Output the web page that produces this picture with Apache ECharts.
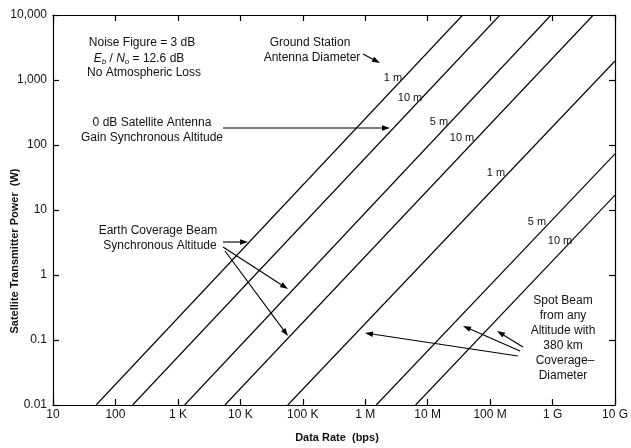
<!DOCTYPE html>
<html>
<head>
<meta charset="utf-8">
<script src="https://cdn.jsdelivr.net/npm/echarts@6/dist/echarts.min.js"></script>
<style>
html,body{margin:0;padding:0;background:#fff;}
#chart{width:631px;height:448px;}
</style>
</head>
<body>
<div id="chart"></div>
<script>
// ---- data ----
const xTickLabels = ['10', '100', '1 K', '10 K', '100 K', '1 M', '10 M', '100 M', '1 G', '10 G'];
const yTickLabels = ['0.01', '0.1', '1', '10', '100', '1,000', '10,000'];
const lineNames = ['1 m', '10 m', '5 m', '10 m', '1 m', '5 m', '10 m'];
// start point of each line (data rate bps, power W)
const startRate = [49, 188, 1280, 5660, 57500, 1.5e6, 6.4e6];
const startPower = [0.01, 0.01, 0.01, 0.01, 0.01, 0.01, 0.01];
// end point of each line
const endRate = [3.64e7, 1.44e8, 9.5e8, 4.5e9, 1e10, 1e10, 1e10];
const endPower = [10000, 10000, 10000, 10000, 1960, 73, 17];

const FONT = '"Liberation Sans", Arial, Helvetica, sans-serif';
const INK = '#111';

const chart = echarts.init(document.getElementById('chart'), null, {renderer: 'canvas'});

const series = lineNames.map((n, i) => ({
  type: 'line',
  name: n + ' #' + i,
  data: [[startRate[i], startPower[i]], [endRate[i], endPower[i]]],
  showSymbol: false,
  symbol: 'none',
  silent: true,
  lineStyle: {color: '#000', width: 1.1},
  animation: false
}));

function xLab(v) { const k = Math.round(Math.log10(v)) - 1; return xTickLabels[k] ?? ''; }
function yLab(v) { const k = Math.round(Math.log10(v)) + 2; return yTickLabels[k] ?? ''; }

const axisLineStyle = {lineStyle: {color: '#000', width: 1.2}};
const tickStyle = {show: true, inside: true, length: 6, lineStyle: {color: '#000', width: 1.2}};

function txt(text, x, y, opts) {
  return {
    type: 'text', silent: true,
    style: Object.assign({
      text: text, x: x, y: y, fill: INK,
      font: '12px ' + FONT, textAlign: 'center', textVerticalAlign: 'middle'
    }, opts || {})
  };
}
function arrow(x1, y1, x2, y2) {
  const a = Math.atan2(y2 - y1, x2 - x1), c = Math.cos(a), s = Math.sin(a);
  const L = 8, W = 2.8;
  const bx = x2 - L * c, by = y2 - L * s;
  return [
    {type: 'line', silent: true, shape: {x1: x1, y1: y1, x2: bx + c, y2: by + s}, style: {stroke: '#000', lineWidth: 1.1}},
    {type: 'polygon', silent: true, shape: {points: [[x2, y2], [bx - s * W, by + c * W], [bx + s * W, by - c * W]]}, style: {fill: '#000'}}
  ];
}

const graphics = [
  txt('Noise Figure = 3 dB', 142, 43),
  {
    type: 'text', silent: true,
    style: {
      text: '{i|E}{s|b}{n| / }{i|N}{s|o}{n| = 12.6 dB}', x: 139, y: 59,
      textAlign: 'center', textVerticalAlign: 'middle', fill: INK,
      font: '12px ' + FONT,
      rich: {
        i: {font: 'italic 12px ' + FONT, fill: INK},
        s: {font: 'italic 8px ' + FONT, fill: INK, padding: [6, 0, 0, 0]},
        n: {font: '12px ' + FONT, fill: INK}
      }
    }
  },
  txt('No Atmospheric Loss', 144, 73),
  txt('Ground Station', 310, 43),
  txt('Antenna Diameter', 312, 58),
  txt('0 dB Satellite Antenna', 152, 123),
  txt('Gain Synchronous Altitude', 152, 138),
  txt('Earth Coverage Beam', 158, 231),
  txt('Synchronous Altitude', 160, 246),
  txt('Spot Beam', 563, 301),
  txt('from any', 563, 316),
  txt('Altitude with', 563, 331),
  txt('380 km', 563, 346),
  txt('Coverage\u2013', 565, 361),
  txt('Diameter', 563, 376),
  // line labels
  txt(lineNames[0], 393, 78, {font: '11px ' + FONT}),
  txt(lineNames[1], 410, 98, {font: '11px ' + FONT}),
  txt(lineNames[2], 439, 122, {font: '11px ' + FONT}),
  txt(lineNames[3], 462, 138, {font: '11px ' + FONT}),
  txt(lineNames[4], 496, 173, {font: '11px ' + FONT}),
  txt(lineNames[5], 537, 222, {font: '11px ' + FONT}),
  txt(lineNames[6], 560, 241, {font: '11px ' + FONT}),
  // axis titles
  txt('Data Rate  (bps)', 337, 438, {font: 'bold 11px ' + FONT}),
  {
    type: 'text', silent: true, x: 15, y: 251, rotation: Math.PI / 2,
    style: {text: 'Satellite Transmitter Power  (W)', x: 0, y: 0, fill: INK, font: 'bold 11px ' + FONT, textAlign: 'center', textVerticalAlign: 'middle'}
  },
  ...arrow(363, 54, 380, 63),
  ...arrow(223, 128, 390, 128),
  ...arrow(223, 242, 248, 242),
  ...arrow(223, 247, 288, 289),
  ...arrow(225, 251, 288, 336),
  ...arrow(518, 356, 365, 333),
  ...arrow(520, 351, 463, 326),
  ...arrow(523, 347, 497, 331)
];

const option = {
  animation: false,
  backgroundColor: '#fff',
  grid: {left: 53, right: 7, top: 15, bottom: 43, containLabel: false},
  xAxis: [
    {
      type: 'log', logBase: 10, min: 10, max: 1e10, interval: 1, position: 'bottom',
      axisLine: axisLineStyle, axisTick: tickStyle, splitLine: {show: false}, minorTick: {show: false},
      axisLabel: {formatter: xLab, color: INK, fontFamily: FONT, fontSize: 12, margin: 4, showMinLabel: true, showMaxLabel: true, hideOverlap: false}
    },
    {
      type: 'log', logBase: 10, min: 10, max: 1e10, interval: 1, position: 'top',
      axisLine: axisLineStyle, axisTick: tickStyle, splitLine: {show: false}, axisLabel: {show: false}
    }
  ],
  yAxis: [
    {
      type: 'log', logBase: 10, min: 0.01, max: 10000, interval: 1, position: 'left',
      axisLine: {show: true, lineStyle: {color: '#000', width: 1.2}}, axisTick: tickStyle, splitLine: {show: false},
      axisLabel: {formatter: yLab, color: INK, fontFamily: FONT, fontSize: 12, margin: 6, showMinLabel: true, showMaxLabel: true}
    },
    {
      type: 'log', logBase: 10, min: 0.01, max: 10000, interval: 1, position: 'right',
      axisLine: {show: true, lineStyle: {color: '#000', width: 1.2}}, axisTick: tickStyle, splitLine: {show: false}, axisLabel: {show: false}
    }
  ],
  series: series,
  graphic: graphics
};
chart.setOption(option);
</script>
</body>
</html>
